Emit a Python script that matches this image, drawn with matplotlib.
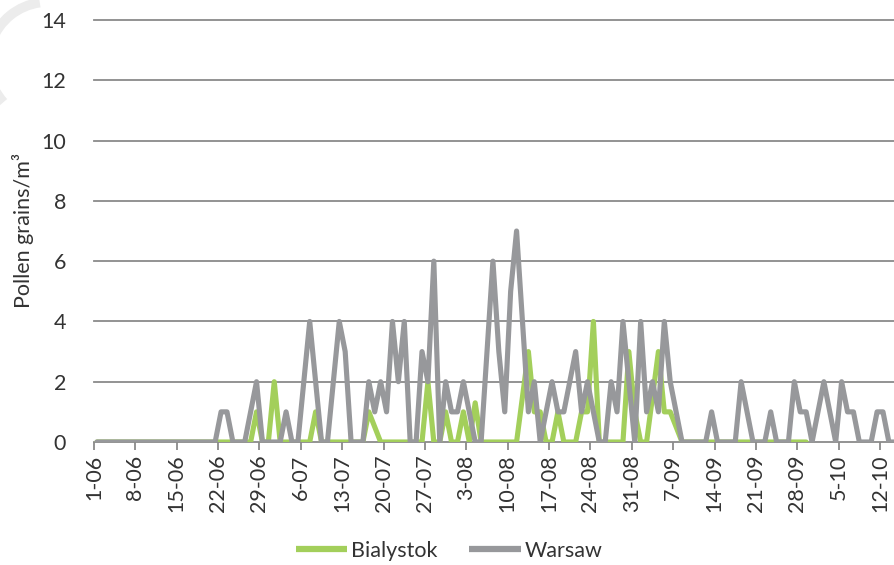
import datetime as dt
import numpy as np
import matplotlib
matplotlib.use("Agg")
import matplotlib.pyplot as plt
from matplotlib.patches import Arc

# Daily pollen concentrations (grains/m³), starting 1 June
warsaw = [
    0, 0, 0, 0, 0, 0, 0, 0, 0, 0, 0, 0, 0, 0, 0, 0, 0, 0, 0, 0, 0,
    1, 1, 0, 0, 0, 1, 2, 0, 0, 0, 0, 1, 0, 0, 2, 4, 2, 0, 0,
    2, 4, 3, 0, 0, 0, 2, 1, 2, 1, 4, 2, 4, 0, 0, 3, 2, 6, 0,
    2, 1, 1, 2, 1, 0, 0, 3, 6, 3, 1, 5, 7, 4, 1, 2, 0,
    1, 2, 1, 1, 2, 3, 1, 2, 1, 0, 0, 2, 1, 4, 2, 0, 4, 1, 2, 1, 4, 2, 1,
    0, 0, 0, 0, 0, 1, 0, 0, 0, 0, 2, 1, 0, 0, 0, 1, 0, 0, 0,
    2, 1, 1, 0, 1, 2, 1, 0, 2, 1, 1, 0, 0, 0, 1, 1, 0, 0,
]
bialystok = [
    0, 0, 0, 0, 0, 0, 0, 0, 0, 0, 0, 0, 0, 0, 0, 0, 0, 0, 0, 0, 0,
    0, 0, 0, 0, 0, 0, 1, 0, 0, 2, 0, 0, 0, 0, 0, 0, 1, 0, 0,
    0, 0, 0, 0, 0, 0, 1, 0.5, 0, 0, 0, 0, 0, 0, 0, 0, 2, 0, 0,
    1, 0, 0, 1, 0, 1.3, 0, 0, 0, 0, 0, 0, 0, 1.5, 3, 1, 1,
    0, 0, 1, 0, 0, 0, 1, 1, 4, 0, 0, 0, 0, 0, 3, 1, 0, 0, 1.5, 3, 1, 1, 0.5,
    0, 0, 0, 0, 0, 0, 0, 0, 0, 0, 0, 0, 0, 0, 0, 0, 0, 0, 0, 0, 0, 0,
]
series_names = ["Bialystok", "Warsaw"]
series_colors = ["#a3cf5b", "#97989b"]

start = dt.date(2013, 6, 1)
n_days = len(warsaw)
day_labels = [f"{(start + dt.timedelta(days=i)).day}-{(start + dt.timedelta(days=i)).month:02d}"
              for i in range(n_days)]
tick_days = list(range(0, n_days, 7))
y_ticks = [0, 2, 4, 6, 8, 10, 12, 14]

plt.rcParams["font.family"] = ["Lato", "DejaVu Sans"]
text_color = "#333333"
grid_color = "#8a8a8a"
fs = 15.5

fig = plt.figure(figsize=(8.94, 5.65), dpi=100)
ax = fig.add_axes([94 / 894, 123 / 565, 800 / 894, 422 / 565])

# categories sit between tick marks, as in a category axis
x_w = np.arange(len(warsaw)) + 0.5
x_b = np.arange(len(bialystok)) + 0.5
lw = 3.7
ax.plot(x_b, bialystok, color=series_colors[0], lw=lw, solid_joinstyle="round",
        solid_capstyle="round", label=series_names[0], zorder=3)
ax.plot(x_w, warsaw, color=series_colors[1], lw=lw, solid_joinstyle="round",
        solid_capstyle="round", label=series_names[1], zorder=4)

ax.set_xlim(0, 800 / 5.91)
ax.set_ylim(0, 14)
ax.set_yticks(y_ticks)
ax.set_yticklabels([str(v) for v in y_ticks])
ax.set_xticks(tick_days)
ax.set_xticklabels([day_labels[i] for i in tick_days], rotation=90)

for v in y_ticks[1:]:
    ax.axhline(v, color=grid_color, lw=1.3, zorder=1, clip_on=False)

for s in ["left", "right", "top"]:
    ax.spines[s].set_visible(False)
ax.spines["bottom"].set_color(grid_color)
ax.spines["bottom"].set_linewidth(1.3)
ax.spines["bottom"].set_zorder(2)

ax.tick_params(axis="y", length=0, pad=20, labelsize=fs, labelcolor=text_color)
ax.tick_params(axis="x", length=6, width=1.3, color=grid_color, direction="out",
               pad=3, labelsize=fs, labelcolor=text_color)

ax.set_ylabel("Pollen grains/m³", fontsize=fs, color=text_color)
ax.yaxis.set_label_coords(-60 / 800, 0.5)

leg = fig.legend(loc="center", bbox_to_anchor=(449 / 894, 14 / 565), ncol=2,
                 frameon=False, fontsize=fs, handlelength=2.4, handletextpad=0.15,
                 columnspacing=1.5, labelcolor=text_color)
for line in leg.get_lines():
    line.set_linewidth(4.5)
    line.set_solid_capstyle("butt")

# faint watermark arc in the upper left corner
fig.add_artist(Arc((48 / 894, 1 - 62 / 565), 120 / 894, 120 / 565, angle=0,
                   theta1=95, theta2=235, color="#ececec", lw=7,
                   transform=fig.transFigure, zorder=0))

fig.savefig("out.png", dpi=100)
